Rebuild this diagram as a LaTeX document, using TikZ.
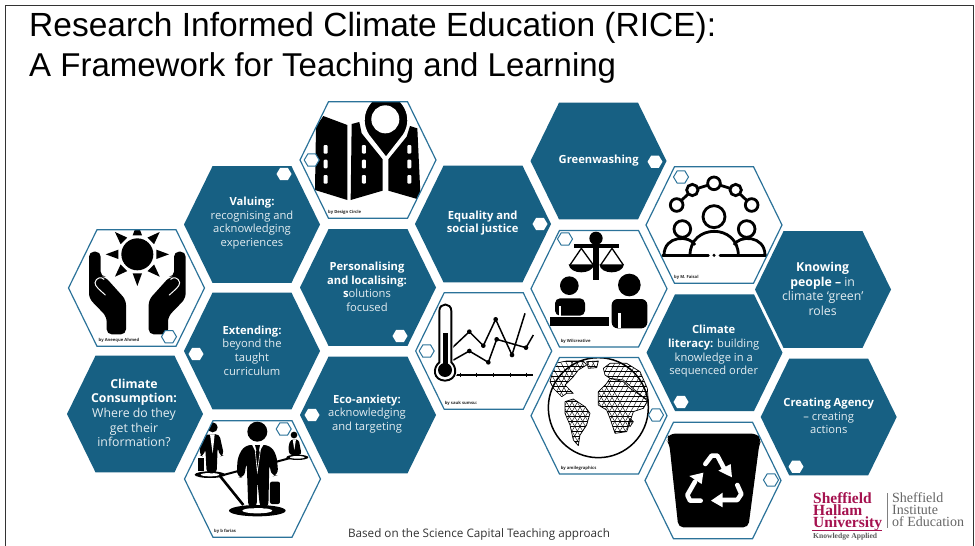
\documentclass[tikz,border=0pt]{standalone}
\usepackage{fontspec}
\setmainfont{Open Sans}
\newfontfamily\serifface{Liberation Serif}
\newfontfamily\titleface{Liberation Sans}
\definecolor{hexblue}{HTML}{176083}
\definecolor{edgeblue}{HTML}{2B7299}
\definecolor{softwhite}{HTML}{E4EDF1}
\definecolor{crimson}{HTML}{A5124F}
\newcommand\hexp[2]{({#1-68},{#2}) -- ({#1-39.5},{#2-58.3}) -- ({#1+39.5},{#2-58.3}) -- ({#1+68},{#2}) -- ({#1+39.5},{#2+58.3}) -- ({#1-39.5},{#2+58.3}) -- cycle}
\newcommand\hexs[2]{({#1-7.5},{#2}) -- ({#1-3.8},{#2-6.2}) -- ({#1+3.8},{#2-6.2}) -- ({#1+7.5},{#2}) -- ({#1+3.8},{#2+6.2}) -- ({#1-3.8},{#2+6.2}) -- cycle}
\newcommand\bigfill[2]{\fill[hexblue] \hexp{#1}{#2};}
\newcommand\bigline[2]{\draw[edgeblue,line width=1.2pt] \hexp{#1}{#2};}
\newcommand\smallw[2]{\fill[white] \hexs{#1}{#2};}
\newcommand\smallo[2]{\draw[edgeblue,line width=1pt,fill=white] \hexs{#1}{#2};}
\tikzset{
  hextext/.style={text=softwhite,align=center,font=\fontsize{11.2}{13.7}\selectfont},
  hexlarge/.style={text=softwhite,align=center,font=\fontsize{12.3}{14.6}\selectfont},
  titletext/.style={anchor=base west,text=black,inner sep=0pt},
  credit/.style={anchor=west,inner sep=0pt,text=black!85,font=\fontsize{4.2}{5}\selectfont\bfseries},
  ink/.style={fill=black},
  wline/.style={draw=white,line cap=round,line join=round},
  logotext/.style={anchor=north west,align=left,inner sep=0pt,font=\serifface\bfseries\fontsize{15.5}{12}\selectfont,text=crimson},
  insttext/.style={anchor=north west,align=left,inner sep=0pt,font=\serifface\fontsize{14}{12}\selectfont,text=black!60},
}
\newcommand\bt[1]{\textcolor{white}{\bfseries #1}}
\begin{document}
\begin{tikzpicture}[x=1pt,y=-1pt]
\useasboundingbox (0,0) rectangle (975,546);
\fill[white] (0,0) rectangle (975,546);
\draw[black!80,line width=0.8pt] (5,546) -- (5,5) -- (973,5) -- (973,546);
\node[titletext,font=\titleface\fontsize{33.5}{33.5}\selectfont] (t1) at (29,36) {Research Informed Climate Education (RICE):};
\node[titletext,font=\titleface\fontsize{33}{33}\selectfont] (t2) at (29,76) {A Framework for Teaching and Learning};

% solid hexagons
\bigfill{252}{224.5}\bigfill{368}{287.5}\bigfill{252}{351}\bigfill{135}{414}\bigfill{368}{415}
\bigfill{483}{224}\bigfill{598.5}{161}\bigfill{823}{289.5}\bigfill{714.5}{352.7}\bigfill{828.7}{417}
\node[hextext] (valuing) at (252,223) {\bt{Valuing:}\\recognising and\\acknowledging\\experiences};
\node[hextext] (personal) at (367,286.7) {\bt{Personalising}\\\bt{and localising:}\\\bt{s}olutions\\focused};
\node[hextext] (extending) at (252,350.5) {\bt{Extending:}\\beyond the\\taught\\curriculum};
\node[hexlarge] (consumption) at (134,413) {\bt{Climate}\\\bt{Consumption:}\\Where do they\\get their\\information?};
\node[hextext] (eco) at (367,414) {\bt{Eco-anxiety:}\\acknowledging\\and targeting};
\node[hextext] (equality) at (482.7,223) {\bt{Equality and}\\\bt{social justice}};
\node[hextext] (green) at (598.7,160.7) {\bt{Greenwashing}};
\node[hexlarge] (knowing) at (822.7,289) {\bt{Knowing}\\\bt{people –} in\\climate ‘green’\\roles};
\node[hextext] (literacy) at (713.7,351.5) {\bt{Climate}\\\bt{literacy:} building\\knowledge in a\\sequenced order};
\node[hextext] (agency) at (828.7,416) {\bt{Creating Agency}\\– creating\\actions};
\smallw{284}{174}\smallw{400}{336}\smallw{196}{354}\smallw{312}{415}\smallw{540}{224}\smallw{655}{161.7}\smallw{681}{402}\smallw{796}{466.7}

% map
\begin{scope}
\clip \hexp{368}{160};
\begin{scope}[shift={(60,90)},scale=1/3]
\fill[ink] (768,110) -- (790,78) -- (862,105) -- (862,330) -- (765,300) -- cycle;
\fill[ink] (875,102) -- (898,96) -- (905,130) -- (968,208) -- (968,302) -- (872,330) -- cycle;
\fill[ink] (985,208) -- (1040,140) -- (1050,108) -- (1072,115) -- (1082,330) -- (985,302) -- cycle;
\draw[white,line width=1.6pt,fill=black] (978,203) -- (925,135) .. controls (890,80) and (930,15) .. (978,15) .. controls (1026,15) and (1066,80) .. (1031,135) -- cycle;
\fill[white] (976,88) circle (42);
\foreach \xx in {797,912,1048}{\foreach \yy in {178,222,268}{
  \fill[white,rounded corners=1pt] ({\xx-6},{\yy-13}) rectangle ({\xx+6},{\yy+13});}}
\end{scope}
\end{scope}
\bigline{368}{160}\smallo{311.7}{160}
\node[credit] (c1) at (328,212.5) {by Design Circle};

% hands
\begin{scope}
\clip \hexp{136.5}{288};
\begin{scope}[shift={(60,90)},scale=1/3]
\fill[ink] (232,493) circle (48);
\foreach \a in {0,45,...,315}{
  \fill[ink,rotate around={\a:(232,493)}] (218,436) -- (246,436) -- (232,398) -- cycle;
}
\foreach \m/\o in {1/0,-1/464}{
\begin{scope}[shift={(\o,0)},xscale=\m]
\fill[ink,rounded corners=5pt] (87,625) -- (87,485) -- (122,485) -- (122,560) -- (135,560) -- (198,630) -- (198,733) -- (140,733) -- (140,680) -- cycle;
\draw[white,line width=1pt,line cap=round] (136,615) .. controls (120,600) and (105,590) .. (105,578) .. controls (108,562) and (125,560) .. (132,568);
\end{scope}}
\end{scope}
\end{scope}
\bigline{136.5}{288}\smallo{169}{336.7}
\node[credit] (c2) at (98.5,340) {by Aneeque Ahmed};

% people network
\begin{scope}
\clip \hexp{252.5}{479};
\begin{scope}[shift={(60,340)},scale=1/3]
\draw[line width=2.6pt] (480,408) -- (550,495);
\draw[line width=2pt] (490,405) -- (535,393);
\draw[line width=2pt] (650,365) -- (695,353);
\fill[ink] (450,404) ellipse (46 and 10);
\fill[white] (450,404) ellipse (28 and 5);
\fill[ink] (712,352) ellipse (33 and 8);
\fill[white] (712,352) ellipse (22 and 4);
\fill[ink] (592,512) ellipse (85 and 17);
\fill[white] (592,512) ellipse (45 and 8);
% small left
\fill[ink] (458,262) circle (15);
\fill[ink,rounded corners=4pt] (418,345) -- (425,285) -- (478,282) -- (492,345) -- (480,350) -- (473,320) -- (470,400) -- (440,400) -- (436,325) -- (430,350) -- cycle;
\fill[ink] (415,355) rectangle (432,392);
\fill[white] (450,283) -- (464,283) -- (458,340) -- cycle;
% small right
\fill[ink] (702,285) circle (10);
\fill[ink,rounded corners=3pt] (685,320) -- (692,298) -- (716,298) -- (725,345) -- (688,345) -- cycle;
\fill[white] (698,298) -- (708,298) -- (703,330) -- cycle;
% main
\fill[ink] (592,275) circle (30);
\fill[ink,rounded corners=6pt] (530,410) -- (533,350) -- (555,315) -- (630,315) -- (650,345) -- (655,405) -- (635,410) -- (628,370) -- (625,505) -- (600,505) -- (592,420) -- (590,505) -- (565,505) -- (560,365) -- (552,415) -- cycle;
\fill[white] (575,312) -- (612,312) -- (592,345) -- cycle;
\fill[ink] (585,315) -- (600,315) -- (597,330) -- (603,385) -- (592,395) -- (583,385) -- (589,330) -- cycle;
\draw[white,line width=0.6pt] (585,325) -- (592,395) -- (602,325);
\fill[ink,rounded corners=2pt] (630,425) rectangle (660,492);
\end{scope}
\end{scope}
\bigline{252.5}{479}\smallo{283.7}{429}
\node[credit] (c3) at (214,531.7) {by b farias};

% scales
\begin{scope}
\clip \hexp{599}{288.7};
\begin{scope}[shift={(410,90)},scale=1/3]
\fill[ink] (558,445) circle (20);
\fill[ink] (548,445) rectangle (568,570);
\fill[ink] (492,462) rectangle (626,473);
\draw[line width=1.3pt] (480,525) -- (514,475) -- (550,525);
\draw[line width=1.3pt] (572,525) -- (606,475) -- (640,525);
\fill[ink] (476,523) -- (552,523) .. controls (548,555) and (480,555) .. (476,523) -- cycle;
\fill[ink] (568,523) -- (642,523) .. controls (638,555) and (572,555) .. (568,523) -- cycle;
\fill[ink] (478,587) circle (28);
\fill[ink] (658,585) circle (34);
\end{scope}
\begin{scope}[shift={(410,285)},scale=1/3]
\fill[ink,rounded corners=5pt] (435,92) -- (435,40) -- (525,40) -- (525,92) -- cycle;
\fill[white] (447,62) rectangle (453,94);
\fill[ink,rounded corners=6pt] (605,130) -- (605,42) -- (712,42) -- (712,130) -- cycle;
\fill[white] (624,85) rectangle (632,130);
\fill[ink] (420,97) rectangle (597,122);
\end{scope}
\end{scope}
\bigline{599}{288.7}\smallo{565}{239}
\node[credit] (c4) at (560.7,341) {by Wilcreative};

% thermometer chart
\begin{scope}
\clip \hexp{483.7}{351};
\begin{scope}[shift={(410,285)},scale=1/3]
\draw[line width=1.1pt] (130,270) -- (370,270);
\foreach \xx in {150,200,250,300,350}{\draw[line width=0.8pt] (\xx,263) -- (\xx,277);}
\draw[line width=1.5pt,line join=round] (125,190) -- (178,140) -- (220,182) -- (257,103) -- (306,210) -- (345,85);
\draw[line width=1.5pt,line join=round] (125,228) -- (178,198) -- (235,232) -- (260,163) -- (348,188) -- (370,150);
\foreach \p in {(178,140),(220,182),(257,103),(306,210),(178,198),(235,232),(260,163),(348,188)}{\fill[ink] \p circle (7);}
\fill[white] (105,255) circle (38);
\fill[white,rounded corners=8pt] (80,270) rectangle (130,52);
\draw[line width=1.9pt,fill=white] (88,232) -- (88,78) .. controls (88,52) and (124,52) .. (124,78) -- (124,232) .. controls (142,248) and (142,285) .. (105,287) .. controls (68,285) and (68,248) .. (88,232) -- cycle;
\fill[ink] (98,145) rectangle (113,240);
\fill[ink] (105,255) circle (21);
\end{scope}
\end{scope}
\bigline{483.7}{351}\smallo{426.7}{351}
\node[credit] (c5) at (444.7,403.5) {by sauk sumsu:};

% globe
\begin{scope}
\clip \hexp{599}{415.7};
\begin{scope}[shift={(410,285)},scale=1/3]
\draw[line width=1.5pt] (565,368) circle (150);
\foreach \shape in {
 {(435,235) -- (470,228) -- (520,228) -- (530,240) -- (505,255) -- (490,275) -- (465,300) -- (490,325) -- (470,325) -- (455,335) -- (430,310) -- (420,290) -- cycle},
 {(530,230) -- (565,228) -- (560,248) -- (535,250) -- cycle},
 {(465,350) -- (490,342) -- (525,365) -- (540,385) -- (530,420) -- (510,450) -- (505,482) -- (490,465) -- (480,420) -- (465,385) -- cycle},
 {(565,320) -- (590,295) -- (600,280) -- (640,290) -- (660,310) -- (690,330) -- (715,345) -- (700,370) -- (670,380) -- (650,440) -- (615,445) -- (600,400) -- (590,375) -- (565,360) -- cycle},
 {(580,250) -- (600,235) -- (650,235) -- (690,260) -- (712,310) -- (715,350) -- (680,320) -- (640,285) -- (600,280) -- (585,270) -- cycle},
 {(660,400) -- (670,410) -- (660,425) -- (655,415) -- cycle}}{
 \begin{scope}
 \expandafter\clip\shape;
 \foreach \k in {200,216,...,560}{
  \draw[line width=0.4pt] (\k,210) -- ({\k+160},500);
  \draw[line width=0.4pt] ({\k+300},210) -- ({\k+140},500);
 }
 \foreach \k in {215,230,...,500}{\draw[line width=0.4pt] (400,\k) -- (730,\k);}
 \end{scope}
 \draw[line width=0.7pt,line join=round] \shape;
}
\end{scope}
\end{scope}
\bigline{599}{415.7}\smallo{656}{415}
\node[credit] (c6) at (560.7,468) {by amilegraphics};

% circle of people
\begin{scope}
\clip \hexp{714}{225};
\begin{scope}[shift={(640,150)},scale=1/3]
\draw[line width=2.8pt] (110,165) -- (157,120) -- (222,100) -- (287,120) -- (335,165);
\foreach \p/\r in {(110,165)/19,(157,120)/17,(222,100)/19,(287,120)/17,(335,165)/19,(222,200)/33,(127,237)/25,(320,237)/25}{
  \draw[line width=2.8pt,fill=white] \p circle (\r);}
\draw[line width=2.8pt,line cap=round] (68,316) -- (205,316);
\draw[line width=2.8pt,line cap=round] (240,316) -- (378,316);
\fill[ink] (222,316) circle (5);
\draw[line width=2.8pt] (150,316) .. controls (150,220) and (295,220) .. (295,316);
\draw[line width=2.8pt] (72,316) .. controls (72,255) and (150,255) .. (165,285);
\draw[line width=2.8pt] (375,316) .. controls (375,255) and (297,255) .. (282,285);
\end{scope}
\end{scope}
\bigline{714}{225}\smallo{681}{177}
\node[credit] (c7) at (674,277.7) {by M. Faisal};

% recycling bin
\begin{scope}
\clip \hexp{713}{480.5};
\begin{scope}[shift={(640,340)},scale=1/3]
\fill[ink,rounded corners=5pt] (78,298) -- (90,281) -- (350,281) -- (365,298) -- (358,312) -- (325,562) -- (115,562) -- (88,312) -- cycle;
\draw[wline,line width=4.6pt] (196,372) -- (215,347) -- (232,347) -- (252,385);
\fill[white] (235,392) -- (272,372) -- (276,412) -- cycle;
\draw[wline,line width=4.6pt] (292,435) -- (304,462) -- (292,480) -- (245,480);
\fill[white] (213,482) -- (248,458) -- (248,502) -- cycle;
\draw[wline,line width=4.6pt] (182,482) -- (150,482) -- (142,465) -- (165,425);
\fill[white] (190,398) -- (148,408) -- (185,432) -- cycle;
\end{scope}
\end{scope}
\bigline{713}{480.5}\smallo{771}{480}

% footer and logo
\node[anchor=base,inner sep=0pt,text=black!80,font=\fontsize{11.7}{13}\selectfont] (foot) at (479,537) {Based on the Science Capital Teaching approach};
\node[logotext] (l1) at (813,492) {Sheffield\\Hallam\\University};
\node[anchor=base west,inner sep=0pt,font=\serifface\bfseries\fontsize{7.6}{8}\selectfont,text=black!65] (l4) at (813,538.5) {Knowledge Applied};
\coordinate (ruleA) at (812,530);
\coordinate (ruleB) at (882,530);
\draw[crimson,line width=0.8pt] (ruleA) -- (ruleB);
\coordinate (divA) at (887,493);
\coordinate (divB) at (887,528);
\draw[black!50,line width=0.6pt] (divA) -- (divB);
\node[insttext] (i1) at (892,492) {Sheffield\\Institute\\of Education};
\end{tikzpicture}
\end{document}
